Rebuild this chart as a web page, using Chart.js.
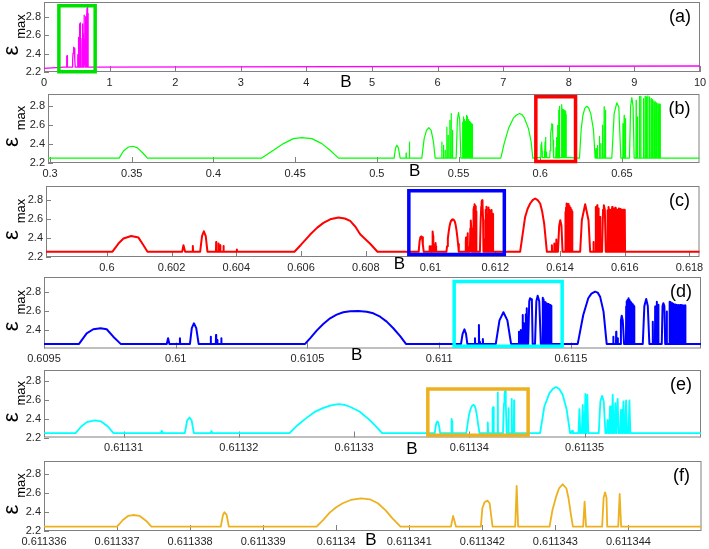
<!DOCTYPE html>
<html>
<head>
<meta charset="utf-8">
<title>epsilon max versus B</title>
<script src="https://cdn.jsdelivr.net/npm/chart.js@4.4.1/dist/chart.umd.min.js"></script>
<style>
  html, body { margin: 0; padding: 0; background: #ffffff; }
  #wrap { position: relative; width: 709px; height: 549px; overflow: hidden; background: #ffffff; }
  #wrap canvas { position: absolute; left: 0; }
</style>
</head>
<body>
<div id="wrap"></div>
<script>
// ================= DATA =================
const yTicks = [2.2, 2.4, 2.6, 2.8];
const aTicks = [0, 1, 2, 3, 4, 5, 6, 7, 8, 9, 10];
const bTicks = [0.3, 0.35, 0.4, 0.45, 0.5, 0.55, 0.6, 0.65];
const cTicks = [0.6, 0.602, 0.604, 0.606, 0.608, 0.61, 0.612, 0.614, 0.616, 0.618];
const dTicks = [0.6095, 0.61, 0.6105, 0.611, 0.6115];
const eTicks = [0.61131, 0.61132, 0.61133, 0.61134, 0.61135];
const fTicks = [0.611336, 0.611337, 0.611338, 0.611339, 0.61134, 0.611341, 0.611342, 0.611343, 0.611344];

// panel (a): whole range, fine structure is panel (b)'s data
const aEnds = [[0, 2.24], [10, 2.265]];
const aBase = 2.25;

// panel (b)
const bBase = 2.252;
const bEnds = [[0.29875, 2.252], [0.69746, 2.252]];
const bArches = [
  [[0.34229,2.252],[0.34494,2.327],[0.34800,2.369],[0.35067,2.377],[0.35349,2.36],[0.35679,2.306],[0.35961,2.252]],
  [[0.42957,2.252],[0.43672,2.335],[0.44284,2.405],[0.44896,2.458],[0.45407,2.469],[0.46022,2.458],[0.46634,2.405],[0.47142,2.335],[0.47650,2.252]],
  [[0.51059,2.252],[0.51140,2.355],[0.51222,2.388],[0.51320,2.36],[0.51426,2.252]],
  [[0.52752,2.252],[0.52896,2.458],[0.53039,2.546],[0.53181,2.575],[0.53325,2.546],[0.53467,2.422],[0.53568,2.252]],
  [[0.54855,2.252],[0.54930,2.66],[0.54998,2.734],[0.55070,2.66],[0.55141,2.252]],
  [[0.57587,2.252],[0.57791,2.405],[0.58056,2.564],[0.58362,2.677],[0.58550,2.708],[0.58729,2.723],[0.58880,2.712],[0.59015,2.681],[0.59280,2.564],[0.59443,2.423],[0.59545,2.252]],
  [[0.62401,2.252],[0.62503,2.55],[0.62605,2.70],[0.62730,2.78],[0.62850,2.80],[0.62970,2.78],[0.63095,2.72],[0.63258,2.55],[0.63360,2.252]],
  [[0.64380,2.252],[0.64523,2.723],[0.64686,2.836],[0.64808,2.793],[0.64931,2.252]],
  [[0.65461,2.252],[0.65530,2.80],[0.65604,2.892],[0.65680,2.80],[0.65747,2.252]]
];
const bSpikes = [
  [0.51793,2.306],[0.51995,2.422],
  [0.53976,2.422],[0.54080,2.388],[0.54182,2.335],[0.54284,2.581],[0.54366,2.493],[0.54468,2.652],[0.54549,2.723],[0.54631,2.546],
  [0.55243,2.634],[0.55275,2.60],[0.55325,2.688],[0.55365,2.66],[0.55406,2.617],[0.55450,2.64],[0.55488,2.705],[0.55520,2.69],
  [0.55549,2.670],[0.55590,2.66],[0.55630,2.652],[0.55670,2.64],[0.55712,2.634],[0.55750,2.62],[0.55794,2.617],[0.55825,2.61],[0.55855,2.61],
  [0.63421,2.352],[0.63502,2.388],[0.63625,2.483],[0.63707,2.405],[0.63808,2.60],[0.63910,2.793],[0.63992,2.758],
  [0.65053,2.617],[0.65135,2.705],[0.65216,2.67],
  [0.65869,2.864],[0.65951,2.688],[0.66073,2.906],[0.66155,2.906],[0.66318,2.882],[0.66420,2.906],[0.66502,2.899],[0.66583,2.910],
  [0.66685,2.899],[0.66787,2.882],[0.66868,2.871],[0.66950,2.857],[0.67032,2.846],[0.67113,2.836],[0.67195,2.829],[0.67276,2.822],[0.67338,2.82]
];
const bSpikeHalf = 0.0001;

// panel (c)
const cBase = 2.256;
const cEnds = [[0.59812, 2.256], [0.61831, 2.256]];
const cArches = [
  [[0.600173,2.256],[0.600358,2.342],[0.600513,2.395],[0.600751,2.422],[0.600977,2.405],[0.601131,2.324],[0.601255,2.256]],
  [[0.602327,2.256],[0.602367,2.324],[0.602419,2.256]],
  [[0.602883,2.256],[0.602940,2.42],[0.602997,2.472],[0.603055,2.42],[0.603108,2.256]],
  [[0.605796,2.256],[0.606000,2.33],[0.606281,2.437],[0.606500,2.51],[0.606692,2.56],[0.606900,2.598],[0.607156,2.617],[0.607350,2.607],
   [0.607517,2.581],[0.607680,2.52],[0.607826,2.44],[0.607980,2.39],[0.608135,2.34],[0.608361,2.256]],
  [[0.612769,2.256],[0.612923,2.623],[0.613000,2.71],[0.613078,2.765],[0.613155,2.80],[0.613233,2.818],[0.613310,2.80],[0.613387,2.765],
   [0.613450,2.68],[0.613511,2.553],[0.613594,2.256]],
  [[0.613936,2.256],[0.613975,2.53],[0.614008,2.588],[0.614045,2.53],[0.614079,2.256]],
  [[0.614623,2.256],[0.614675,2.588],[0.614778,2.757],[0.614881,2.588],[0.614932,2.256]],
  [[0.615300,2.256],[0.615330,2.70],[0.615355,2.747],[0.615385,2.70],[0.615415,2.256]]
];
const cSpikes = [
  [0.602657,2.316],[0.603377,2.359],[0.603449,2.342],[0.603501,2.324],[0.603604,2.316],[0.604017,2.278],
  [0.613750,2.324],[0.613822,2.342],[0.613884,2.384],
  [0.614161,2.676],[0.614187,2.72],[0.614213,2.765],[0.614233,2.76],[0.614254,2.76],[0.614270,2.75],[0.614285,2.74],[0.614300,2.73],
  [0.614316,2.72],[0.614331,2.71],[0.614347,2.70],[0.614362,2.69],[0.614378,2.68],
  [0.615035,2.359],[0.615107,2.729],[0.615149,2.747],[0.615190,2.712],[0.615241,2.623],
  [0.615468,2.694],[0.615490,2.70],[0.615510,2.729],[0.615530,2.70],[0.615550,2.659],[0.615580,2.70],[0.615612,2.729],[0.615632,2.72],
  [0.615653,2.712],[0.615680,2.71],[0.615705,2.72],[0.615730,2.71],[0.615757,2.70],[0.615790,2.70],[0.615819,2.712],[0.615850,2.71],
  [0.615880,2.705],[0.615910,2.70],[0.615942,2.70],[0.615972,2.70],[0.616004,2.70]
];
const cSpikeHalf = 0.000006;

// panel (d)
const dBase = 2.255;
const dEnds = [[0.6095, 2.255], [0.611994, 2.255]];
const dArches = [
  [[0.609633,2.255],[0.609662,2.365],[0.609687,2.408],[0.609715,2.418],[0.609738,2.408],[0.609763,2.33],[0.609791,2.255]],
  [[0.609966,2.255],[0.609971,2.313],[0.609976,2.255]],
  [[0.610054,2.255],[0.610061,2.42],[0.610069,2.47],[0.610078,2.42],[0.610087,2.255]],
  [[0.610491,2.255],[0.610510,2.313],[0.610535,2.393],[0.610560,2.463],[0.610586,2.522],[0.610611,2.56],[0.610636,2.585],[0.610662,2.595],
   [0.610693,2.598],[0.610725,2.591],[0.610750,2.574],[0.610776,2.539],[0.610801,2.487],[0.610826,2.418],[0.610852,2.337],[0.610874,2.255]],
  [[0.611083,2.255],[0.611089,2.36],[0.611096,2.407],[0.611102,2.36],[0.611107,2.255]],
  [[0.611215,2.255],[0.611229,2.50],[0.611244,2.585],[0.611259,2.50],[0.611273,2.255]],
  [[0.611338,2.255],[0.611342,2.70],[0.611345,2.731],[0.611349,2.72],[0.611352,2.714],[0.611355,2.255]],
  [[0.611364,2.255],[0.611369,2.70],[0.611374,2.758],[0.611380,2.70],[0.611386,2.255]],
  [[0.611526,2.255],[0.611547,2.557],[0.611566,2.731],[0.611578,2.78],[0.611592,2.80],[0.611602,2.79],[0.611611,2.748],[0.611624,2.592],[0.611636,2.255]],
  [[0.611687,2.255],[0.611690,2.50],[0.611693,2.549],[0.611697,2.50],[0.611702,2.255]],
  [[0.611773,2.255],[0.611779,2.65],[0.611786,2.724],[0.611792,2.65],[0.611798,2.255]],
  [[0.611845,2.255],[0.611848,2.65],[0.611851,2.68],[0.611855,2.65],[0.611858,2.255]]
];
const dSpikes = [
  [0.610016,2.313],[0.610133,2.33],[0.610153,2.347],[0.610158,2.296],[0.610173,2.313],
  [0.611136,2.313],[0.611151,2.452],[0.611155,2.278],[0.611166,2.306],
  [0.611303,2.382],[0.611310,2.399],[0.611317,2.557],[0.611322,2.47],[0.611329,2.564],[0.611333,2.626],
  [0.611393,2.737],[0.611396,2.72],[0.611399,2.696],[0.611403,2.69],[0.611406,2.68],[0.611408,2.675],[0.611411,2.67],[0.611414,2.67],
  [0.611416,2.665],[0.611419,2.66],[0.611421,2.66],[0.611424,2.655],[0.611426,2.654],
  [0.611661,2.33],[0.611672,2.382],[0.611678,2.313],
  [0.611710,2.645],[0.611713,2.70],[0.611715,2.714],[0.611718,2.72],[0.611720,2.731],[0.611723,2.71],[0.611725,2.696],[0.611728,2.69],
  [0.611731,2.68],[0.611733,2.67],[0.611735,2.664],[0.611738,2.655],[0.611740,2.645],
  [0.611811,2.487],[0.611820,2.645],[0.611826,2.696],[0.611832,2.664],
  [0.611864,2.592],[0.611874,2.696],[0.611877,2.69],[0.611880,2.69],[0.611884,2.68],[0.611887,2.67],[0.611890,2.67],[0.611892,2.664],
  [0.611897,2.665],[0.611902,2.66],[0.611908,2.66],[0.611915,2.66],[0.611921,2.66],[0.611927,2.655],[0.611931,2.655],[0.611934,2.655]
];
const dSpikeHalf = 0.0000008;

// panel (e)
const eBase = 2.246;
const eEnds = [[0.6113031, 2.246], [0.6113601, 2.246]];
const eArches = [
  [[0.61130584,2.246],[0.61130633,2.316],[0.61130682,2.363],[0.61130748,2.38],[0.61130806,2.37],[0.61130864,2.316],[0.61130913,2.246]],
  [[0.61131532,2.246],[0.61131552,2.38],[0.61131572,2.412],[0.61131591,2.38],[0.61131610,2.246]],
  [[0.61132440,2.246],[0.61132510,2.33],[0.61132585,2.405],[0.61132655,2.468],[0.61132729,2.511],[0.61132800,2.54],[0.61132867,2.553],
   [0.61132915,2.545],[0.61132960,2.528],[0.61133047,2.475],[0.61133134,2.387],[0.61133192,2.316],[0.61133243,2.246]],
  [[0.61134614,2.246],[0.61134651,2.528],[0.61134695,2.67],[0.61134725,2.715],[0.61134753,2.733],[0.61134782,2.71],[0.61134810,2.652],[0.61134845,2.493],[0.61134874,2.246]],
  [[0.61135123,2.246],[0.61135137,2.58],[0.61135152,2.641],[0.61135166,2.58],[0.61135181,2.246]]
];
const eSpikes = [
  [0.61131332,2.271],[0.61131763,2.267],[0.61134891,2.27],
  [0.61134955,2.50],[0.61134984,2.546],[0.61135007,2.662],[0.61135024,2.652],
  [0.61135200,2.387],[0.61135221,2.528],[0.61135244,2.652],[0.61135267,2.564],[0.61135287,2.607],[0.61135316,2.493],
  [0.61135337,2.582],[0.61135360,2.593],[0.61135389,2.593]
];
const eSpikeHalf = 0.00000008;

// panel (f)
const fBase = 2.246;
const fEnds = [[0.611336, 2.246], [0.611345, 2.246]];
const fArches = [
  [[0.611337000,2.246],[0.61133708,2.316],[0.61133715,2.359],[0.61133722,2.369],[0.61133731,2.359],[0.61133740,2.306],[0.61133747,2.246]],
  [[0.61133842,2.246],[0.61133845,2.37],[0.61133847,2.398],[0.61133850,2.37],[0.61133853,2.246]],
  [[0.61133973,2.246],[0.61133982,2.316],[0.61133991,2.394],[0.61134000,2.451],[0.61134009,2.493],[0.61134020,2.528],[0.61134034,2.546],
   [0.61134046,2.535],[0.61134057,2.493],[0.61134068,2.415],[0.61134077,2.334],[0.61134088,2.246]],
  [[0.61134157,2.246],[0.61134160,2.359],[0.61134164,2.246]],
  [[0.61134198,2.246],[0.61134200,2.44],[0.61134203,2.504],[0.61134207,2.521],[0.61134210,2.493],[0.61134212,2.369],[0.61134214,2.246]],
  [[0.61134292,2.246],[0.61134296,2.422],[0.61134301,2.563],[0.61134305,2.652],[0.61134310,2.694],[0.61134315,2.652],[0.61134318,2.546],[0.61134321,2.387],[0.61134324,2.246]],
  [[0.61134364,2.246],[0.61134366,2.55],[0.61134368,2.609],[0.61134370,2.55],[0.61134371,2.246]]
];
const fSpikes = [[0.61134247,2.676],[0.61134340,2.51],[0.61134388,2.592]];
const fSpikeHalf = 0.00000002;

// zoom rectangles [B from, B to, eps from, eps to]
const boxA = [0.227, 0.78, 2.204, 2.92];
const boxB = [0.5973, 0.6216, 2.215, 2.90];
const boxC = [0.60933, 0.61228, 2.226, 2.90];
const boxD = [0.611057, 0.611467, 2.23, 2.905];
const boxE = [0.6113364, 0.6113451, 2.223, 2.713];

// ================= BUILD SERIES =================
function buildSeries(arches, spikes, half, base, ends, child) {
  const pts = ends.slice();
  arches.forEach(a => a.forEach(p => pts.push(p)));
  spikes.forEach(([x, h]) => { pts.push([x - half, base], [x, h], [x + half, base]); });
  if (child) child.forEach(p => pts.push(p));
  pts.sort((p, q) => p[0] - q[0]);
  return pts;
}
const seriesF = buildSeries(fArches, fSpikes, fSpikeHalf, fBase, fEnds, null);
const seriesE = buildSeries(eArches, eSpikes, eSpikeHalf, eBase, eEnds, seriesF);
const seriesD = buildSeries(dArches, dSpikes, dSpikeHalf, dBase, dEnds, null);
const seriesC = buildSeries(cArches, cSpikes, cSpikeHalf, cBase, cEnds, seriesD);
const seriesB = buildSeries(bArches, bSpikes, bSpikeHalf, bBase, bEnds, seriesC);
const seriesA = buildSeries([], [], 0, aBase, aEnds, seriesB);

function boxPolygon(b) {
  if (!b) return [];
  return [[b[0], b[2]], [b[1], b[2]], [b[1], b[3]], [b[0], b[3]], [b[0], b[2]]].map(([x, y]) => ({x, y}));
}

// ================= LAYOUT =================
const FONT = "'Liberation Sans', Arial, Helvetica, sans-serif";
Chart.defaults.font.family = FONT;
const PAD_T = 4;

const panels = [
  {label:'(a)', series:seriesA, ticks:aTicks, box:boxA, color:'#ff00ff', lw:1.3, boxColor:'#00e000',
   top:2, bottom:72, left:44, right:700, xmin:0, xmax:10, ymin:2.2, ymax:2.96, bAt:[346, 82.5]},
  {label:'(b)', series:seriesB, ticks:bTicks, box:boxB, color:'#00ff00', lw:1.2, boxColor:'#ff0000',
   top:94, bottom:163, left:48, right:699.5, xmin:0.29875, xmax:0.69746, ymin:2.2, ymax:2.93, bAt:[414.7, 171.5]},
  {label:'(c)', series:seriesC, ticks:cTicks, box:boxC, color:'#ff0000', lw:2, boxColor:'#0000ff',
   top:186, bottom:257, left:46, right:699.5, xmin:0.59812, xmax:0.61831, ymin:2.2, ymax:2.95, bAt:[399.5, 264.5]},
  {label:'(d)', series:seriesD, ticks:dTicks, box:boxD, color:'#0000ff', lw:2, boxColor:'#00ffff',
   top:277, bottom:348.5, left:44, right:701, xmin:0.6095, xmax:0.611994, ymin:2.207, ymax:2.953, bAt:[356.7, 355.5]},
  {label:'(e)', series:seriesE, ticks:eTicks, box:boxE, color:'#00ffff', lw:1.8, boxColor:'#edb120',
   top:370, bottom:437.5, left:44, right:701, xmin:0.6113031, xmax:0.6113601, ymin:2.2, ymax:2.914, bAt:[412, 449.5]},
  {label:'(f)', series:seriesF, ticks:fTicks, box:null, color:'#edb120', lw:1.8, boxColor:'#000000',
   top:461, bottom:531, left:44, right:701.5, xmin:0.611336, xmax:0.611345, ymin:2.2, ymax:2.94, bAt:[371, 540.5]}
];

function makeDecor(p, canvasTop) {
  return {
    id: 'decor',
    beforeDatasetsDraw(chart) {
      const {ctx, chartArea: a, scales: {x, y}} = chart;
      ctx.save();
      ctx.strokeStyle = '#808080';
      ctx.lineWidth = 1;
      ctx.strokeRect(a.left + 0.5, a.top + 0.5, a.right - a.left - 1, a.bottom - a.top - 1);
      ctx.beginPath();
      x.ticks.forEach(t => {
        const px = Math.round(x.getPixelForValue(t.value)) + 0.5;
        ctx.moveTo(px, a.bottom); ctx.lineTo(px, a.bottom - 6);
      });
      y.ticks.forEach(t => {
        const py = Math.round(y.getPixelForValue(t.value)) + 0.5;
        ctx.moveTo(a.left, py); ctx.lineTo(a.left + 5, py);
      });
      ctx.stroke();
      ctx.restore();
    },
    afterDraw(chart) {
      const {ctx, chartArea: a} = chart;
      ctx.save();
      ctx.fillStyle = '#000000';
      ctx.font = '18px ' + FONT;
      ctx.textAlign = 'center';
      ctx.textBaseline = 'middle';
      ctx.fillText(p.label, a.right - 20, a.top + 15);
      ctx.font = '17px ' + FONT;
      ctx.fillText('B', p.bAt[0], p.bAt[1] - canvasTop);
      const cy = (a.top + a.bottom) / 2;
      ctx.textBaseline = 'alphabetic';
      ctx.save();
      ctx.translate(12, cy + 13.5);
      ctx.rotate(-Math.PI / 2);
      ctx.font = '22px ' + FONT;
      ctx.fillText('\u03b5', 0, 5.5);
      ctx.restore();
      ctx.save();
      ctx.translate(22, cy - 10.5);
      ctx.rotate(-Math.PI / 2);
      ctx.font = '13px ' + FONT;
      ctx.fillText('max', 0, 3.4);
      ctx.restore();
      ctx.restore();
    }
  };
}

const wrap = document.getElementById('wrap');
panels.forEach(p => {
  const plotH = p.bottom - p.top;
  const H = Math.ceil(plotH + PAD_T + 22);
  const axH = H - PAD_T - plotH;
  const canvasTop = p.top - PAD_T;
  const cv = document.createElement('canvas');
  cv.width = 709; cv.height = H;
  cv.style.width = '709px'; cv.style.height = H + 'px';
  cv.style.top = canvasTop + 'px';
  wrap.appendChild(cv);

  new Chart(cv, {
    type: 'line',
    data: {
      datasets: [
        { data: boxPolygon(p.box), borderColor: p.boxColor, borderWidth: 3.5, pointRadius: 0,
          fill: false, tension: 0, clip: false, order: 0, borderJoinStyle: 'miter', borderCapStyle: 'square' },
        { data: p.series.map(([x, y]) => ({x, y})), borderColor: p.color, borderWidth: p.lw, pointRadius: 0,
          fill: false, tension: 0, order: 1, borderJoinStyle: 'round', borderCapStyle: 'round' }
      ]
    },
    options: {
      responsive: false,
      animation: false,
      events: [],
      layout: { padding: { left: 0, right: 709 - p.right, top: PAD_T, bottom: 0 } },
      plugins: { legend: { display: false }, tooltip: { enabled: false } },
      scales: {
        x: {
          type: 'linear', min: p.xmin, max: p.xmax,
          grid: { display: false, drawTicks: false }, border: { display: false },
          afterBuildTicks: s => { s.ticks = p.ticks.map(v => ({ value: v })); },
          afterFit: s => { s.height = axH; s.paddingLeft = 0; s.paddingRight = 0; },
          ticks: { autoSkip: false, maxRotation: 0, minRotation: 0, padding: 4, color: '#262626',
                   font: { size: 11, family: FONT }, callback: v => String(v) }
        },
        y: {
          type: 'linear', min: p.ymin, max: p.ymax,
          grid: { display: false, drawTicks: false }, border: { display: false },
          afterBuildTicks: s => { s.ticks = yTicks.filter(v => v >= p.ymin - 1e-9 && v <= p.ymax).map(v => ({ value: v })); },
          afterFit: s => { s.width = p.left; s.paddingTop = 0; s.paddingBottom = 0; },
          ticks: { padding: 3, color: '#262626', font: { size: 11, family: FONT }, callback: v => v.toFixed(1) }
        }
      }
    },
    plugins: [makeDecor(p, canvasTop)]
  });
});
</script>
</body>
</html>
